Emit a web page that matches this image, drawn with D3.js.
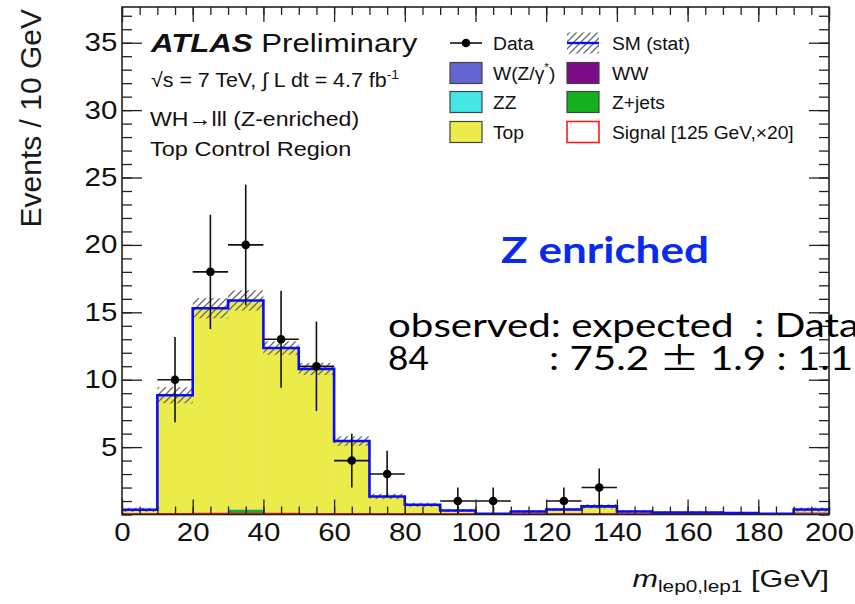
<!DOCTYPE html>
<html>
<head>
<meta charset="utf-8">
<script src="https://cdn.jsdelivr.net/npm/d3@7"></script>
<style>
  html, body { margin: 0; padding: 0; background: #fff; overflow: hidden; }
  svg { display: block; }
  .root-font { font-family: "Liberation Sans", Arial, Helvetica, sans-serif; }
  text { white-space: pre; }
</style>
</head>
<body>
<svg id="chart" width="855" height="604"></svg>
<script>
// ---- data: m(lep0,lep1) in 10 GeV bins, 0-200 GeV ----
const binLow = d3.range(0, 200, 10);
const dataCounts = [0, 10, 18, 20, 13, 11, 4, 3, 0, 1, 1, 0, 1, 2, 0, 0, 0, 0, 0, 0];
const topBkg   = [0.25, 8.75, 15.2, 15.5, 12.25, 10.7, 5.35, 1.25, 0.62, 0.2, 0.0, 0.12, 0.27, 0.5, 0.12, 0.05, 0.05, 0.0, 0.0, 0.2];
const zJetsBkg = [0, 0, 0, 0.28, 0, 0, 0, 0, 0, 0, 0, 0, 0, 0, 0, 0, 0, 0, 0, 0];
const zzBkg    = [0, 0, 0, 0, 0, 0, 0, 0, 0, 0, 0, 0, 0, 0, 0, 0, 0, 0, 0, 0];
const wwBkg    = [0.05, 0.05, 0.05, 0.05, 0.05, 0.05, 0.05, 0.05, 0.05, 0.05, 0.05, 0.05, 0.05, 0.05, 0.05, 0.05, 0.05, 0.05, 0.05, 0.1];
const wzBkg    = [0.05, 0.05, 0.05, 0.05, 0.05, 0.05, 0.05, 0.04, 0.05, 0.05, 0, 0.05, 0.05, 0.05, 0.05, 0.05, 0.05, 0.05, 0, 0.07];
const smStatErr = [0.15, 0.6, 0.75, 0.75, 0.5, 0.45, 0.35, 0.2, 0.15, 0.1, 0.05, 0.1, 0.1, 0.15, 0.1, 0.08, 0.08, 0.05, 0.03, 0.15];
const signalX20 = [0.02, 0.03, 0.05, 0.06, 0.05, 0.04, 0.04, 0.03, 0.03, 0.02, 0.02, 0.02, 0.02, 0.02, 0.01, 0.01, 0.01, 0.01, 0.01, 0.02];

const xTickLabels = [0, 20, 40, 60, 80, 100, 120, 140, 160, 180, 200];
const yTickLabels = [5, 10, 15, 20, 25, 30, 35];

// stacking order, bottom to top
const processes = [
  { key: "ww",    label: "WW",        values: wwBkg,    color: "#7b0b86" },
  { key: "zjets", label: "Z+jets",    values: zJetsBkg, color: "#14b020" },
  { key: "zz",    label: "ZZ",        values: zzBkg,    color: "#44e6e6" },
  { key: "wz",    label: "W(Z/γ*)",   values: wzBkg,    color: "#6464d2" },
  { key: "top",   label: "Top",       values: topBkg,   color: "#ebeb4a" }
];

const BIN = 10;
const svg = d3.select("#chart");
const x = d3.scaleLinear().domain([0, 200]).range([122, 829]);
const y = d3.scaleLinear().domain([0, 37.65]).range([514.5, 7]);

// text placed at (px,py) and widened horizontally by sx
function wideText(parent, px, py, sx, size) {
  return parent.append("g").attr("transform", `translate(${px},${py}) scale(${sx},1)`)
    .append("text").attr("font-size", size);
}

// ---- build stack table ----
const table = binLow.map((lo, i) => {
  const row = { lo };
  processes.forEach(p => { row[p.key] = p.values[i]; });
  return row;
});
const stacked = d3.stack().keys(processes.map(p => p.key))(table);
const total = table.map(r => processes.reduce((s, p) => s + r[p.key], 0));

// hatch pattern for the stat band
const defs = svg.append("defs");
defs.append("pattern")
  .attr("id", "hatch")
  .attr("patternUnits", "userSpaceOnUse")
  .attr("width", 7).attr("height", 7)
  .append("path")
  .attr("d", "M-1,8 L8,-1 M-1,1 L1,-1 M6,8 L8,6")
  .attr("stroke", "#6a6a6a").attr("stroke-width", 1.3);
defs.append("clipPath").attr("id", "plotClip")
  .append("rect").attr("x", 122).attr("y", 7).attr("width", 707).attr("height", 507.5);

const plot = svg.append("g").attr("clip-path", "url(#plotClip)");

// stacked background fills
stacked.forEach((layer, li) => {
  plot.append("g").selectAll("rect").data(layer).join("rect")
    .attr("x", (d, i) => x(binLow[i]))
    .attr("width", x(BIN) - x(0) + 0.5)
    .attr("y", d => y(d[1]))
    .attr("height", d => Math.max(0, y(d[0]) - y(d[1])))
    .attr("fill", processes[li].color);
});

// stat uncertainty band
plot.append("g").selectAll("rect").data(total).join("rect")
  .attr("x", (d, i) => x(binLow[i]))
  .attr("width", x(BIN) - x(0))
  .attr("y", (d, i) => y(d + smStatErr[i]))
  .attr("height", (d, i) => y(Math.max(0, d - smStatErr[i])) - y(d + smStatErr[i]))
  .attr("fill", "url(#hatch)");

// step outline helpers
const stepPts = vals => binLow.map((lo, i) => [lo, vals[i]]).concat([[200, vals[vals.length - 1]]]);
const stepLine = d3.line().x(d => x(d[0])).y(d => y(d[1])).curve(d3.curveStepAfter);

// signal x20 (red outline)
plot.append("path").datum(stepPts(signalX20))
  .attr("d", stepLine).attr("fill", "none")
  .attr("stroke", "#ff1a1a").attr("stroke-width", 2);

// SM total (blue)
plot.append("path").datum(stepPts(total))
  .attr("d", stepLine).attr("fill", "none")
  .attr("stroke", "#0a0aff").attr("stroke-width", 2.6);

// data points with sqrt(N) errors
const pts = binLow.map((lo, i) => ({ c: lo + BIN / 2, n: dataCounts[i] })).filter(d => d.n > 0);
const dg = svg.append("g");
dg.selectAll("line.v").data(pts).join("line")
  .attr("x1", d => x(d.c)).attr("x2", d => x(d.c))
  .attr("y1", d => y(d.n + Math.sqrt(d.n))).attr("y2", d => y(Math.max(0, d.n - Math.sqrt(d.n))))
  .attr("stroke", "#111").attr("stroke-width", 1.6);
dg.selectAll("line.h").data(pts).join("line")
  .attr("x1", d => x(d.c - BIN / 2)).attr("x2", d => x(d.c + BIN / 2))
  .attr("y1", d => y(d.n)).attr("y2", d => y(d.n))
  .attr("stroke", "#111").attr("stroke-width", 1.6);
dg.selectAll("circle").data(pts).join("circle")
  .attr("cx", d => x(d.c)).attr("cy", d => y(d.n)).attr("r", 4.3)
  .attr("fill", "#000");

// ---- axes, ROOT style: ticks inside on all four sides ----
const axG = svg.append("g").attr("class", "root-font");
const styleAxis = g => {
  g.select(".domain").remove();
  g.selectAll(".tick line").attr("stroke", "#222").attr("stroke-width", 1.3);
};
const styleLabels = g => g.selectAll("text")
  .attr("font-size", 25).attr("fill", "#111")
  .attr("font-family", "Liberation Sans, Arial, sans-serif")
  .attr("transform", "scale(1.18,1)");
const xMinor = d3.range(0, 201, 5);
const yMinor = d3.range(0, 38, 1);

axG.append("g").attr("transform", `translate(0,${y(0)})`)
  .call(d3.axisBottom(x).tickValues(xMinor).tickSize(-8).tickFormat("")).call(styleAxis);
axG.append("g").attr("transform", `translate(0,${y(0)})`)
  .call(d3.axisBottom(x).tickValues(xTickLabels).tickSize(-15).tickPadding(9).tickFormat(d3.format("d")))
  .call(styleAxis).call(styleLabels);
axG.append("g").attr("transform", `translate(0,${y.range()[1]})`)
  .call(d3.axisTop(x).tickValues(xMinor).tickSize(-8).tickFormat("")).call(styleAxis);
axG.append("g").attr("transform", `translate(0,${y.range()[1]})`)
  .call(d3.axisTop(x).tickValues(xTickLabels).tickSize(-15).tickFormat("")).call(styleAxis);

axG.append("g").attr("transform", `translate(${x(0)},0)`)
  .call(d3.axisLeft(y).tickValues(yMinor).tickSize(-10).tickFormat("")).call(styleAxis);
axG.append("g").attr("transform", `translate(${x(0)},0)`)
  .call(d3.axisLeft(y).tickValues(yTickLabels).tickSize(-20).tickPadding(4).tickFormat(d3.format("d")))
  .call(styleAxis).call(styleLabels);
axG.append("g").attr("transform", `translate(${x(200)},0)`)
  .call(d3.axisRight(y).tickValues(yMinor).tickSize(-10).tickFormat("")).call(styleAxis);
axG.append("g").attr("transform", `translate(${x(200)},0)`)
  .call(d3.axisRight(y).tickValues(yTickLabels).tickSize(-20).tickFormat("")).call(styleAxis);

// frame
svg.append("rect")
  .attr("x", x(0)).attr("y", y.range()[1])
  .attr("width", x(200) - x(0)).attr("height", y(0) - y.range()[1])
  .attr("fill", "none").attr("stroke", "#222").attr("stroke-width", 1.6);

// axis titles
const txt = svg.append("g").attr("class", "root-font").attr("fill", "#111");
txt.append("text")
  .attr("transform", "translate(41,9) rotate(-90)")
  .attr("text-anchor", "end").attr("font-size", 30).attr("fill", "#1a1a1a")
  .text("Events / 10 GeV");

const xt = wideText(txt, 829, 587, 1.3, 23.5).attr("text-anchor", "end");
xt.append("tspan").attr("font-style", "italic").text("m");
xt.append("tspan").attr("font-size", 16).attr("dy", 5).text("lep0,lep1");
xt.append("tspan").attr("dy", -5).text(" [GeV]");

// ATLAS label block
const atl = wideText(txt, 151, 52, 1.2, 26);
atl.append("tspan").attr("font-weight", "bold").attr("font-style", "italic").text("ATLAS");
atl.append("tspan").text(" Preliminary");

const lumi = wideText(txt, 151, 87, 1.07, 20);
lumi.append("tspan").text("√s = 7 TeV, ∫ L dt = 4.7 fb");
lumi.append("tspan").attr("font-size", 13).attr("dy", -8).text("-1");

wideText(txt, 150, 126, 1.1, 21).text("WH→lll (Z-enriched)");
wideText(txt, 150, 156, 1.12, 21).text("Top Control Region");

// ---- legend ----
const leg = svg.append("g").attr("class", "root-font");
const rowY = [43, 73, 102, 132];
const col1 = 450, col2 = 567, swW = 32, swH = 21;
const legendFont = 18, legSX = 1.07;

// Data entry
leg.append("line").attr("x1", col1).attr("x2", col1 + swW).attr("y1", rowY[0]).attr("y2", rowY[0])
  .attr("stroke", "#111").attr("stroke-width", 1.6);
leg.append("circle").attr("cx", col1 + swW / 2).attr("cy", rowY[0]).attr("r", 4.3).attr("fill", "#000");

// SM (stat) entry
leg.append("rect").attr("x", col2).attr("y", rowY[0] - swH / 2).attr("width", swW).attr("height", swH)
  .attr("fill", "url(#hatch)");
leg.append("line").attr("x1", col2).attr("x2", col2 + swW).attr("y1", rowY[0]).attr("y2", rowY[0])
  .attr("stroke", "#0a0aff").attr("stroke-width", 2.4);

const byKey = Object.fromEntries(processes.map(p => [p.key, p]));
const boxes = [
  { x: col1, row: 1, fill: byKey.wz.color },
  { x: col2, row: 1, fill: byKey.ww.color },
  { x: col1, row: 2, fill: byKey.zz.color },
  { x: col2, row: 2, fill: byKey.zjets.color },
  { x: col1, row: 3, fill: byKey.top.color }
];
leg.selectAll("rect.box").data(boxes).join("rect")
  .attr("x", d => d.x).attr("y", d => rowY[d.row] - swH / 2)
  .attr("width", swW).attr("height", swH)
  .attr("fill", d => d.fill).attr("stroke", "#444").attr("stroke-width", 1.2);
leg.append("rect").attr("x", col2).attr("y", rowY[3] - swH / 2).attr("width", swW).attr("height", swH)
  .attr("fill", "#fff").attr("stroke", "#ff1a1a").attr("stroke-width", 1.6);

const legText = [
  { x: col1 + 43, row: 0, t: "Data" }, { x: col2 + 45, row: 0, t: "SM (stat)" },
  { x: col1 + 43, row: 2, t: "ZZ" },   { x: col2 + 45, row: 1, t: "WW" },
  { x: col2 + 45, row: 2, t: "Z+jets" },
  { x: col1 + 43, row: 3, t: "Top" },  { x: col2 + 45, row: 3, t: "Signal [125 GeV,×20]" }
];
legText.forEach(d => {
  wideText(leg, d.x, rowY[d.row] + 6.5, legSX, legendFont).attr("fill", "#111").text(d.t);
});
const wzt = wideText(leg, col1 + 43, rowY[1] + 6.5, legSX, legendFont).attr("fill", "#111");
wzt.append("tspan").text("W(Z/γ");
wzt.append("tspan").attr("font-size", 11).attr("dy", -9).text("*");
wzt.append("tspan").attr("dy", 9).text(")");

// ---- annotation ----
const ann = svg.append("g").attr("font-family", "Lato, 'Open Sans', sans-serif");
wideText(ann, 605, 263, 1.19, 37).attr("text-anchor", "middle")
  .attr("font-weight", "bold").attr("fill", "#0a2af2").text("Z enriched");
wideText(ann, 388, 337, 1.26, 32).attr("fill", "#000").text("observed: expected  : Data/MC");
wideText(ann, 388, 370, 1.1, 32).attr("fill", "#000").text("84");
const ratioLine = wideText(ann, 549, 370, 1.26, 32).attr("fill", "#000");
ratioLine.append("tspan").text(": 75.2 ");
ratioLine.append("tspan").attr("font-family", "'Noto Sans CJK JP', sans-serif").text("±");
ratioLine.append("tspan").text(" 1.9 : 1.12");
</script>
</body>
</html>
